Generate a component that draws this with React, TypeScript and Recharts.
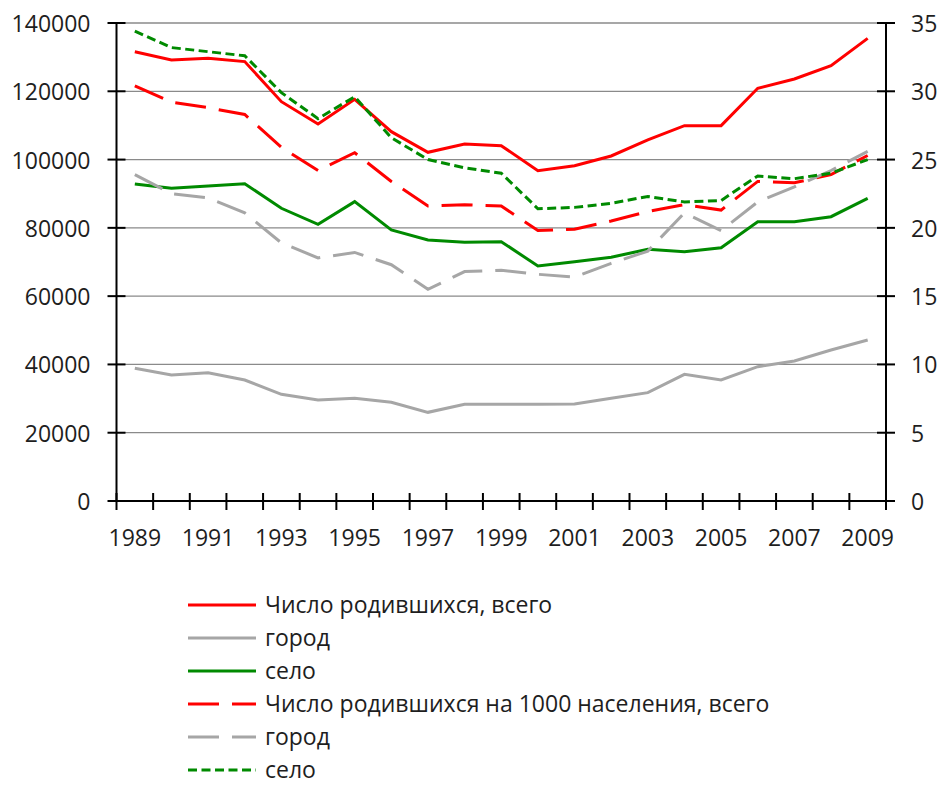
import React from "react";
import { LineChart, Line, XAxis, YAxis, CartesianGrid } from "recharts";

const YEARS = [
  "1989", "1990", "1991", "1992", "1993", "1994", "1995", "1996", "1997", "1998",
  "1999", "2000", "2001", "2002", "2003", "2004", "2005", "2006", "2007", "2008", "2009",
];

// absolute numbers (left axis)
const BIRTHS_TOTAL = [
  131600, 129200, 129700, 128700, 116950, 110400, 117660, 108170, 102130, 104570,
  104070, 96750, 98200, 101050, 105740, 109930, 109930, 120870, 123600, 127500, 135500,
];
const BIRTHS_TOWN = [
  38870, 36900, 37580, 35440, 31250, 29580, 30070, 28900, 25970, 28320,
  28320, 28320, 28410, 30070, 31730, 37100, 35440, 39340, 41000, 44230, 47160,
];
const BIRTHS_VILLAGE = [
  92850, 91580, 92260, 92940, 85730, 81040, 87670, 79380, 76450, 75770,
  75950, 68830, 70090, 71380, 73720, 73020, 74190, 81810, 81810, 83270, 88660,
];

// per 1000 population (right axis)
const RATE_TOTAL = [
  30.4, 29.2, 28.8, 28.3, 25.9, 24.2, 25.5, 23.4, 21.6, 21.7,
  21.6, 19.8, 19.9, 20.5, 21.2, 21.7, 21.3, 23.4, 23.3, 23.9, 25.3,
];
const RATE_TOWN = [
  23.9, 22.5, 22.2, 21.1, 18.9, 17.8, 18.2, 17.3, 15.5, 16.8,
  16.9, 16.6, 16.4, 17.4, 18.3, 21.1, 19.8, 21.9, 23.0, 24.2, 25.6,
];
const RATE_VILLAGE = [
  34.4, 33.2, 32.9, 32.6, 29.9, 28.0, 29.6, 26.6, 25.0, 24.4,
  24.0, 21.4, 21.5, 21.8, 22.3, 21.9, 22.0, 23.8, 23.6, 24.0, 25.0,
];

const LEFT_TICKS = [0, 20000, 40000, 60000, 80000, 100000, 120000, 140000];
const RIGHT_TICKS = [0, 5, 10, 15, 20, 25, 30, 35];

const SERIES = [
  { key: "total", name: "Число родившихся, всего", color: "#ff0000", dash: undefined, axis: "left" },
  { key: "town", name: "город", color: "#a6a6a6", dash: undefined, axis: "left" },
  { key: "village", name: "село", color: "#008a00", dash: undefined, axis: "left" },
  { key: "rateTotal", name: "Число родившихся на 1000 населения, всего", color: "#ff0000", dash: "31 13", axis: "right" },
  { key: "rateTown", name: "город", color: "#a6a6a6", dash: "31 13", axis: "right" },
  { key: "rateVillage", name: "село", color: "#008a00", dash: "9 4.5", axis: "right" },
] as const;

const data = YEARS.map((year, i) => ({
  year,
  total: BIRTHS_TOTAL[i],
  town: BIRTHS_TOWN[i],
  village: BIRTHS_VILLAGE[i],
  rateTotal: RATE_TOTAL[i],
  rateTown: RATE_TOWN[i],
  rateVillage: RATE_VILLAGE[i],
}));

const FONT = "'Open Sans', 'Noto Sans', sans-serif";
const TEXT = "#1e1e1e";
const W = 941;
const CHART_H = 570;
const LEFT_AXIS_X = 116.5;
const RIGHT_AXIS_X = 886;
const BAND = (RIGHT_AXIS_X - LEFT_AXIS_X) / YEARS.length;

const XTick = (props: any) => {
  const { x, y, index, payload } = props;
  const last = index === YEARS.length - 1;
  return (
    <g>
      <line x1={x - BAND / 2} x2={x - BAND / 2} y1={y - 8} y2={y + 9} stroke="#000" strokeWidth={2} />
      {last && (
        <line x1={x + BAND / 2} x2={x + BAND / 2} y1={y - 8} y2={y + 9} stroke="#000" strokeWidth={2} />
      )}
      {index % 2 === 0 && (
        <text x={x} y={y + 36} textAnchor="middle" dominantBaseline="central" fontSize={23} fontFamily={FONT} fill={TEXT}>
          {payload.value}
        </text>
      )}
    </g>
  );
};

const LeftTick = (props: any) => {
  const { x, y, payload } = props;
  return (
    <g>
      <line x1={x - 9} x2={x + 9} y1={y} y2={y} stroke="#000" strokeWidth={2} />
      <text x={x - 26} y={y} textAnchor="end" dominantBaseline="central" fontSize={23} fontFamily={FONT} fill={TEXT}>
        {payload.value}
      </text>
    </g>
  );
};

const RightTick = (props: any) => {
  const { x, y, payload } = props;
  return (
    <g>
      <line x1={x - 9} x2={x + 9} y1={y} y2={y} stroke="#000" strokeWidth={2} />
      <text x={x + 25} y={y} textAnchor="start" dominantBaseline="central" fontSize={23} fontFamily={FONT} fill={TEXT}>
        {payload.value}
      </text>
    </g>
  );
};

export default function App() {
  return (
    <div style={{ position: "absolute", left: 0, top: 0, width: W, height: 787, background: "#fff" }}>
      <LineChart
        width={W}
        height={CHART_H}
        data={data}
        margin={{ top: 23, right: W - RIGHT_AXIS_X - 50, left: LEFT_AXIS_X - 100, bottom: 19 }}
      >
        <CartesianGrid yAxisId="left" vertical={false} stroke="#8a8a8a" strokeWidth={1.3} />
        <XAxis
          dataKey="year"
          interval={0}
          height={50}
          padding={{ left: BAND / 2, right: BAND / 2 }}
          tickSize={0}
          tickMargin={0}
          tickLine={false}
          axisLine={{ stroke: "#000", strokeWidth: 2 }}
          tick={<XTick />}
        />
        <YAxis
          yAxisId="left"
          width={100}
          domain={[0, 140000]}
          ticks={LEFT_TICKS}
          tickSize={0}
          tickMargin={0}
          tickLine={false}
          axisLine={{ stroke: "#000", strokeWidth: 2 }}
          tick={<LeftTick />}
        />
        <YAxis
          yAxisId="right"
          orientation="right"
          width={50}
          domain={[0, 35]}
          ticks={RIGHT_TICKS}
          tickSize={0}
          tickMargin={0}
          tickLine={false}
          axisLine={{ stroke: "#000", strokeWidth: 2 }}
          tick={<RightTick />}
        />
        {SERIES.map((s) => (
          <Line
            key={s.key}
            yAxisId={s.axis}
            dataKey={s.key}
            name={s.name}
            type="linear"
            stroke={s.color}
            strokeWidth={3}
            strokeDasharray={s.dash}
            dot={false}
            activeDot={false}
            isAnimationActive={false}
          />
        ))}
      </LineChart>

      <div style={{ position: "absolute", left: 188, top: 588, fontFamily: FONT, fontSize: 23, color: TEXT }}>
        {SERIES.map((s) => (
          <div key={s.key + s.name} style={{ display: "flex", alignItems: "center", height: 33 }}>
            <svg width={68} height={6} style={{ display: "block" }}>
              <line x1={0} x2={68} y1={3} y2={3} stroke={s.color} strokeWidth={3} strokeDasharray={s.dash} />
            </svg>
            <span style={{ marginLeft: 9, whiteSpace: "nowrap", lineHeight: 1 }}>{s.name}</span>
          </div>
        ))}
      </div>
    </div>
  );
}
